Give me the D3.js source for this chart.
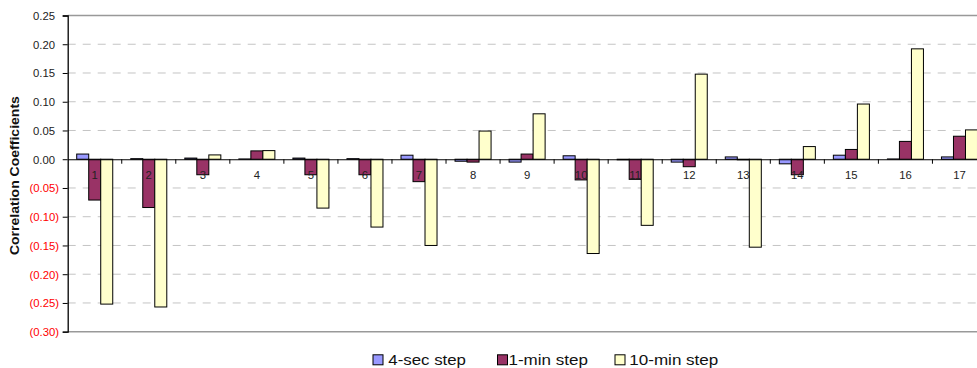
<!DOCTYPE html>
<html>
<head>
<meta charset="utf-8">
<script src="https://cdn.jsdelivr.net/npm/d3@7/dist/d3.min.js"></script>
<style>
  html, body { margin: 0; padding: 0; background: #fff; overflow: hidden; }
  svg { display: block; font-family: Arial, "Liberation Sans", sans-serif; }
</style>
</head>
<body>
<svg id="chart" width="977" height="368"></svg>
<script>
const categories = ["1","2","3","4","5","6","7","8","9","10","11","12","13","14","15","16","17"];
const seriesNames = ["4-sec step", "1-min step", "10-min step"];
const sec4 = [0.009, 0.001, 0.002, 0.0005, 0.002, 0.001, 0.007, -0.0035, -0.005, 0.006, -0.001, -0.005, 0.004, -0.008, 0.007, 0.0005, 0.004];
const min1 = [-0.071, -0.084, -0.027, 0.0145, -0.027, -0.027, -0.039, -0.005, 0.009, -0.036, -0.035, -0.013, -0.001, -0.027, 0.017, 0.031, 0.040];
const min10 = [-0.252, -0.257, 0.0075, 0.015, -0.085, -0.118, -0.150, 0.049, 0.079, -0.164, -0.115, 0.148, -0.153, 0.022, 0.096, 0.192, 0.051];
const yTicks = [0.25, 0.20, 0.15, 0.10, 0.05, 0.00, -0.05, -0.10, -0.15, -0.20, -0.25, -0.30];
const colors = ["#9999FF", "#993366", "#FFFFCC"];
const yTitle = "Correlation Coefficients";

(function () {
const seriesValues = [sec4, min1, min10];
const svg = d3.select("#chart");

const pLeft = 67.7, pRight = 986.5, pTop = 15.5, pBottom = 331.7;
const x0 = d3.scaleBand().domain(categories).range([pLeft, pRight]).padding(0);
const x1 = d3.scaleBand().domain(seriesNames).range([0, x0.bandwidth()]).paddingInner(0).paddingOuter(0.75);
const y = d3.scaleLinear().domain([-0.30, 0.25]).range([pBottom, pTop]);

// gridlines
svg.append("g").selectAll("line")
  .data(yTicks.filter(t => t !== 0 && t !== 0.25 && t !== -0.30))
  .join("line")
  .attr("x1", pLeft).attr("x2", 977)
  .attr("y1", d => y(d)).attr("y2", d => y(d))
  .attr("stroke", "#c4c4c4").attr("stroke-width", 1)
  .attr("stroke-dasharray", "8,7");

// plot border top/bottom
[0.25, -0.30].forEach(v => {
  svg.append("line")
    .attr("x1", pLeft).attr("x2", 977)
    .attr("y1", y(v)).attr("y2", y(v))
    .attr("stroke", "#999").attr("stroke-width", 1.5);
});

// bars
const rows = categories.map((c, i) => ({ cat: c, vals: seriesNames.map((s, k) => ({ s, k, v: seriesValues[k][i] })) }));
svg.append("g").selectAll("g")
  .data(rows).join("g")
  .attr("transform", d => `translate(${x0(d.cat)},0)`)
  .selectAll("rect")
  .data(d => d.vals).join("rect")
  .attr("x", d => x1(d.s))
  .attr("width", x1.bandwidth())
  .attr("y", d => y(Math.max(0, d.v)))
  .attr("height", d => Math.abs(y(d.v) - y(0)))
  .attr("fill", d => colors[d.k])
  .attr("stroke", "#000").attr("stroke-width", 1);

// y axis
const yAxis = d3.axisLeft(y).tickValues(yTicks).tickSize(5).tickFormat("");
const ya = svg.append("g").attr("transform", `translate(${pLeft},0)`).call(yAxis);
ya.select(".domain").attr("stroke", "#000").attr("stroke-width", 1.3);
ya.selectAll(".tick line").attr("stroke", "#000").attr("stroke-width", 1);

// y tick labels (accounting style: negatives in parentheses, red)
svg.append("g").selectAll("text")
  .data(yTicks).join("text")
  .attr("x", d => d < 0 ? 59 : 55)
  .attr("y", d => y(d) + 4.3)
  .attr("text-anchor", "end")
  .attr("font-size", "11.3px")
  .attr("fill", d => d < 0 ? "#FF0000" : "#222")
  .text(d => d < 0 ? `(${d3.format(".2f")(-d)})` : d3.format(".2f")(d));

// x axis at zero
const xAxis = d3.axisBottom(x0).tickSize(0).tickFormat("");
const xa = svg.append("g").attr("transform", `translate(0,${y(0)})`).call(xAxis);
xa.select(".domain").attr("stroke", "#000").attr("stroke-width", 1.2);
svg.append("g").selectAll("line")
  .data(categories.slice(1)).join("line")
  .attr("x1", d => x0(d)).attr("x2", d => x0(d))
  .attr("y1", y(0)).attr("y2", y(0) + 4.5)
  .attr("stroke", "#000").attr("stroke-width", 1);

// category labels
svg.append("g").selectAll("text")
  .data(categories).join("text")
  .attr("x", d => x0(d) + x0.bandwidth() / 2)
  .attr("y", y(0) + 20)
  .attr("text-anchor", "middle")
  .attr("font-size", "11.3px")
  .attr("fill", "#222")
  .text(d => d);

// y title
svg.append("text")
  .attr("transform", `translate(19.3,${(pTop + pBottom) / 2 + 2}) rotate(-90)`)
  .attr("text-anchor", "middle")
  .attr("font-size", "12.8px")
  .attr("font-weight", "bold")
  .attr("fill", "#111")
  .attr("textLength", 159)
  .attr("lengthAdjust", "spacingAndGlyphs")
  .text(yTitle);

// legend
const legendX = [373, 497.5, 615];
const legendW = [77.7, 79.4, 89];
const lg = svg.append("g").selectAll("g")
  .data(seriesNames).join("g")
  .attr("transform", (d, i) => `translate(${legendX[i]},0)`);
lg.append("rect")
  .attr("x", 0).attr("y", 354.8).attr("width", 10).attr("height", 10)
  .attr("fill", (d, i) => colors[i]).attr("stroke", "#000").attr("stroke-width", 1);
lg.append("text")
  .attr("x", (d, i) => i === 2 ? 14.3 : (i === 0 ? 15.3 : 11))
  .attr("y", 365.2)
  .attr("font-size", "14px")
  .attr("fill", "#111")
  .attr("textLength", (d, i) => legendW[i])
  .attr("lengthAdjust", "spacingAndGlyphs")
  .text(d => d);
})();
</script>
</body>
</html>
